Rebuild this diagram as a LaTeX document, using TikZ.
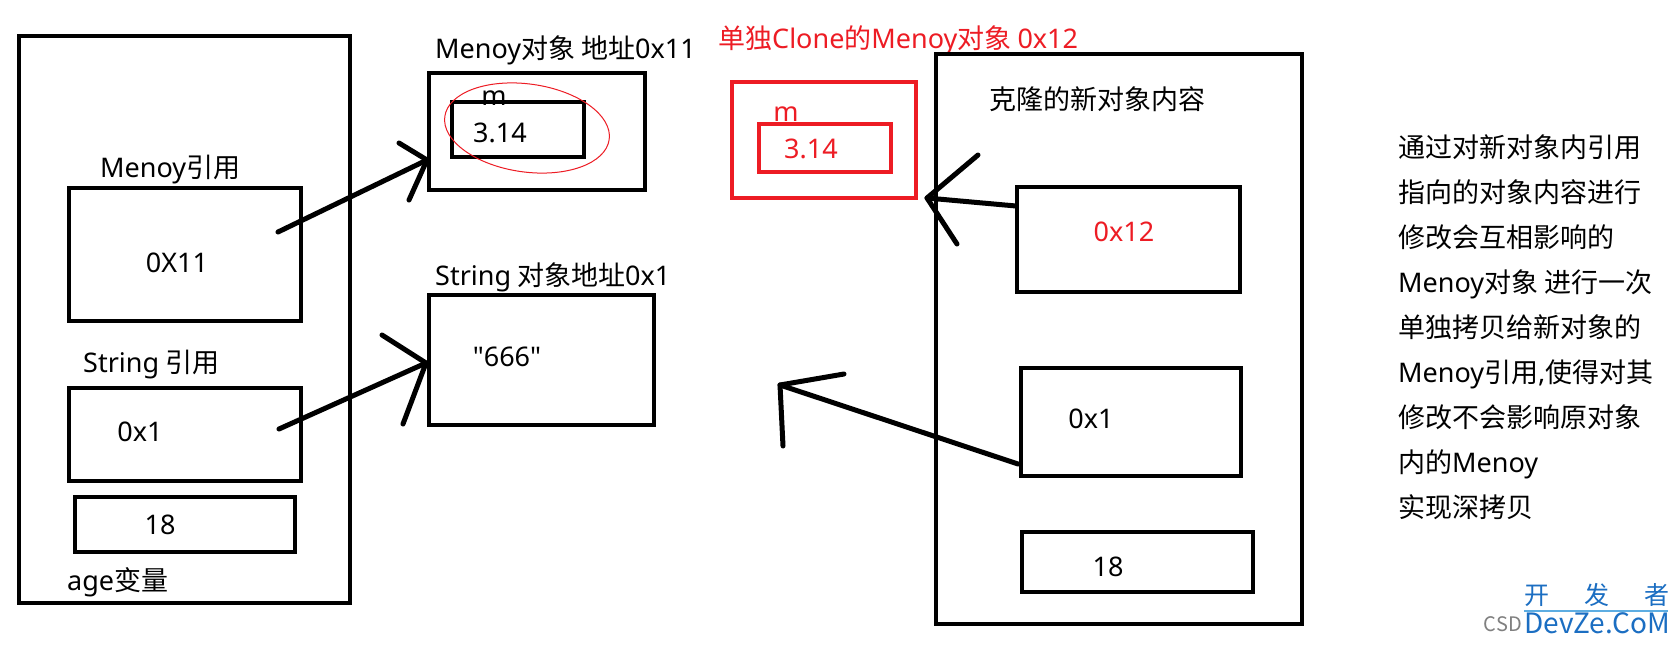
\documentclass[tikz,border=0pt]{standalone}
\usepackage{fontspec}
\setmainfont{Noto Sans CJK SC}
\newfontfamily\latfont{Noto Sans}
\newcommand{\lat}[1]{{\latfont #1}}
\definecolor{pred}{HTML}{ED1C24}
\definecolor{wblue}{HTML}{1B6EC2}
\definecolor{wline}{HTML}{5DADE2}
\begin{document}
\begin{tikzpicture}[x=1pt,y=-1pt,
  box/.style={draw, line width=4.5pt, inner sep=0pt},
  rbox/.style={draw=pred, line width=4.5pt, inner sep=0pt},
  lbl/.style={inner sep=0pt, font=\fontsize{27}{32}\selectfont},
  rlbl/.style={lbl, text=pred},
  arr/.style={line width=5pt, line cap=round, line join=round}]
\useasboundingbox (0,0) rectangle (1679,645);
\fill[white] (0,0) rectangle (1679,645);

% left stack frame
\node[box, minimum width=331pt, minimum height=567pt] (left) at (184.5,319.5) {};
\node[box, minimum width=232pt, minimum height=133pt] (mref) at (185,254.5) {};
\node[box, minimum width=232pt, minimum height=93pt] (sref) at (185,434.5) {};
\node[box, minimum width=220pt, minimum height=55pt] (age) at (185,524.5) {};
\node[lbl, anchor=west] (mreflbl) at (100,170) {\lat{Menoy}引用};
\node[lbl] (mrefval) at (177,263) {\lat{0X11}};
\node[lbl, anchor=west] (sreflbl) at (83,365) {\lat{String} 引用};
\node[lbl] (srefval) at (140,432) {\lat{0x1}};
\node[lbl] (ageval) at (160,525) {\lat{18}};
\node[lbl, anchor=west] (agelbl) at (67,582) {\lat{age}变量};

% Menoy object
\node[lbl, anchor=west] (mobjlbl) at (435,50) {\lat{Menoy}对象 地址\lat{0x11}};
\node[box, minimum width=216pt, minimum height=117pt] (mobj) at (537,131.5) {};
\node[box, minimum width=132pt, minimum height=55pt] (minner) at (518,129.5) {};
\node[lbl] (mm) at (494,98) {\lat{m}};
\node[lbl, anchor=west] (mval) at (473,133) {\lat{3.14}};
\draw[pred, line width=1pt, rotate around={-8:(527,128)}] (527,128) ellipse [x radius=83, y radius=44];

% String object
\node[lbl, anchor=west] (sobjlbl) at (435,277) {\lat{String} 对象地址\lat{0x1}};
\node[box, minimum width=225pt, minimum height=130pt] (sobj) at (541.5,360) {};
\node[lbl] (sval) at (507,357) {\lat{\symbol{"22}666\symbol{"22}}};

% cloned Menoy (red)
\node[rlbl, anchor=west] (ctitle) at (718,40) {单独\lat{Clone}的\lat{Menoy}对象 \lat{0x12}};
\node[rbox, minimum width=184pt, minimum height=116pt] (couter) at (824,140) {};
\node[rbox, minimum width=132pt, minimum height=48pt] (cinner) at (825,148) {};
\node[rlbl] (cm) at (786,114) {\lat{m}};
\node[rlbl] (cval) at (811,149) {\lat{3.14}};

% right frame
\node[box, minimum width=366pt, minimum height=570pt] (right) at (1119,339) {};
\node[lbl, anchor=west] (rlbl) at (989,99) {克隆的新对象内容};
\node[box, minimum width=223pt, minimum height=105pt] (b12) at (1128.5,239.5) {};
\node[rlbl] (b12val) at (1124,232) {\lat{0x12}};
\node[box, minimum width=220pt, minimum height=108pt] (b1) at (1131,422) {};
\node[lbl] (b1val) at (1091,419) {\lat{0x1}};
\node[box, minimum width=231pt, minimum height=60pt] (b18) at (1137.5,562) {};
\node[lbl] (b18val) at (1108,567) {\lat{18}};

% arrows
\coordinate (a1s) at (278,232); \coordinate (a1t) at (427,160);
\coordinate (h1a) at (399,143); \coordinate (h1b) at (409,200);
\draw[arr] (a1s) -- (a1t);
\draw[arr] (h1a) -- (a1t) -- (h1b);

\coordinate (a2s) at (279,429); \coordinate (a2t) at (426,363);
\coordinate (h2a) at (382,335); \coordinate (h2b) at (403,424);
\draw[arr] (a2s) -- (a2t);
\draw[arr] (h2a) -- (a2t) -- (h2b);

\coordinate (a3s) at (1016,206); \coordinate (a3t) at (927,198);
\coordinate (h3a) at (978,155); \coordinate (h3b) at (957,244);
\draw[arr] (a3s) -- (a3t);
\draw[arr] (h3a) -- (a3t) -- (h3b);

\coordinate (a4s) at (1018,464); \coordinate (a4t) at (780,385);
\coordinate (h4a) at (844,374); \coordinate (h4b) at (783,446);
\draw[arr] (a4s) -- (a4t);
\draw[arr] (h4a) -- (a4t) -- (h4b);

% explanation
\node[inner sep=0pt, anchor=west, align=left, font=\fontsize{27}{45}\selectfont] (note) at (1398,327) {通过对新对象内引用\\指向的对象内容进行\\修改会互相影响的\\\lat{Menoy}对象 进行一次\\单独拷贝给新对象的\\\lat{Menoy}引用\lat{,}使得对其\\修改不会影响原对象\\内的\lat{Menoy}\\实现深拷贝};

% watermark
\node[inner sep=0pt, anchor=east, text=gray, font=\fontsize{20}{24}\selectfont] (wcsd) at (1522,624) {CSD};
\node[inner sep=0pt, anchor=west, text=wblue, font=\fontsize{28}{32}\selectfont] (wdev) at (1524,623) {DevZe.CoM};
\node[inner sep=0pt, anchor=west, text=wblue, font=\fontsize{25}{30}\selectfont] (wkfz) at (1524,595) {开\hspace{35pt}发\hspace{35pt}者};
\coordinate (wl1) at (1524,611); \coordinate (wl2) at (1668,611);
\draw[wline, line width=1.2pt] (wl1) -- (wl2);
\end{tikzpicture}
\end{document}
